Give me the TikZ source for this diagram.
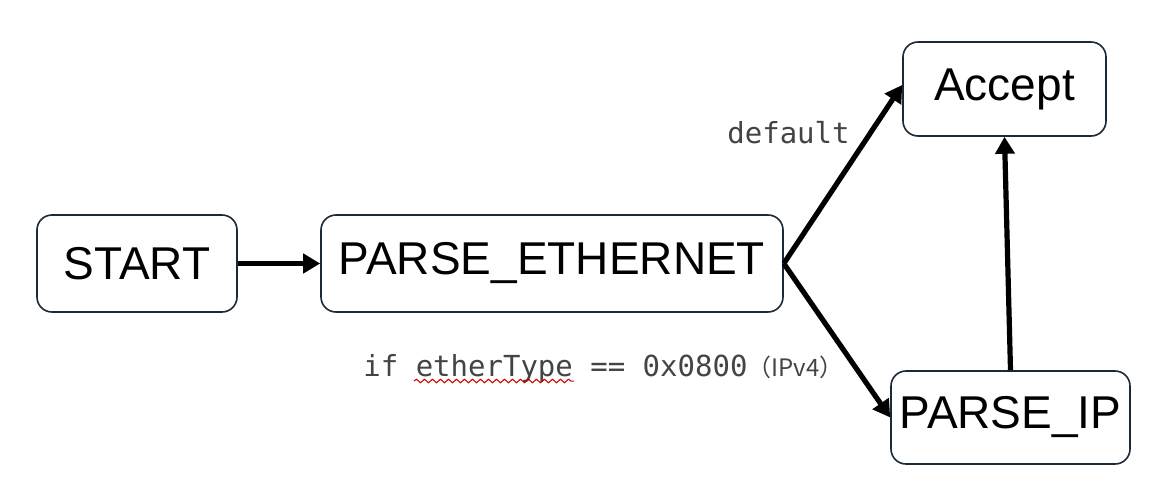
\documentclass[tikz,border=0pt]{standalone}
\usepackage{fontspec}
\setmainfont{Liberation Sans}
\newfontfamily\codefont{DejaVu Sans Mono}
\newfontfamily\cjkfont{Noto Sans CJK SC}
\usetikzlibrary{arrows.meta,decorations.pathmorphing}
\definecolor{boxline}{HTML}{1B2A38}
\definecolor{codegray}{HTML}{444444}
\begin{document}
\begin{tikzpicture}[x=0.5pt,y=-0.5pt,
    state/.style={draw=boxline, line width=0.8pt, rounded corners=7.5pt,
      fill=white, font=\fontsize{23}{27}\selectfont, inner sep=0pt},
    trans/.style={line width=2.6pt, -{Triangle[length=8.5pt,width=9.5pt]}},
    guard/.style={text=codegray, font=\codefont\fontsize{14.5}{17}\selectfont, inner sep=0pt}]
	  \useasboundingbox (0,0) rectangle (1162,498);

	  \node[state, minimum width=100pt, minimum height=48.5pt] (start) at (137,263.5) {START};
	  \node[state, minimum width=231pt, minimum height=48.5pt] (eth) at (552,263.5) {PARSE\_ETHERNET};
	  \node[state, minimum width=101.5pt, minimum height=47pt] (accept) at (1004.5,89) {Accept};
	  \node[state, minimum width=119.5pt, minimum height=46.5pt] (ip) at (1010.5,417.5) {PARSE\_IP};

	  \node[guard, anchor=base west] (dflt) at (727,143) {default};
	  \node[guard, anchor=base west] (cond) at (363,376)
	    {if etherType == 0x0800{\cjkfont\fontsize{12}{14}\selectfont （IPv4）}};
	  \draw[red!80!black, line width=0.5pt, decorate,
	    decoration={snake, segment length=4pt, amplitude=0.9pt}] (414,381) -- (574,381);

	  \draw[trans] (start) -- (eth);
	  \draw[trans] (eth.east) -- ([yshift=2pt]accept.west);
	  \draw[trans] (eth.east) -- (ip.west);
	  \draw[trans] (ip.north) -- (accept.south);
	\end{tikzpicture}
\end{document}
